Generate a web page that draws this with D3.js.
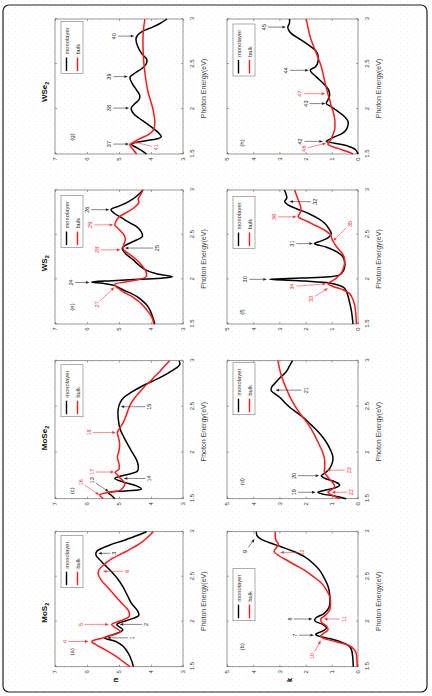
<!DOCTYPE html>
<html><head><meta charset="utf-8">
<script src="https://cdn.jsdelivr.net/npm/d3@7/dist/d3.min.js"></script>
<style>html,body{margin:0;padding:0;background:#fff;}svg{display:block;}
svg text{font-family:"Liberation Sans", Arial, Helvetica, sans-serif;}</style>
</head><body>
<script>
// ---------------- data ----------------
const energyTicks = [1.5, 2, 2.5, 3];
const nTicks = [3, 4, 5, 6, 7];
const kTicks = [0, 1, 2, 3, 4, 5];
const materials = ["MoS", "MoSe", "WS", "WSe"]; // each followed by subscript 2
const seriesNames = ["monolayer", "bulk"];
const xLabel = "Photon Energy(eV)";

// (a) MoS2 n
const mos2N_mono = [[1.5,4.55],[1.56,4.6],[1.65,4.71],[1.73,4.88],[1.78,5.1],[1.82,5.45],[1.86,5.15],[1.91,4.88],[1.97,5.07],[2.02,4.7],[2.07,4.38],[2.12,4.42],[2.21,4.62],[2.3,4.75],[2.39,4.88],[2.48,5.05],[2.58,5.3],[2.67,5.55],[2.74,5.72],[2.78,5.7],[2.85,5.3],[2.9,4.88],[2.95,4.5],[3.0,4.14]];
const mos2N_bulk = [[1.5,4.65],[1.55,4.85],[1.61,5.07],[1.69,5.44],[1.74,5.7],[1.78,5.85],[1.81,5.6],[1.84,5.33],[1.89,4.95],[1.93,5.1],[1.97,5.23],[2.01,4.95],[2.06,4.68],[2.12,4.7],[2.2,4.9],[2.3,5.15],[2.38,5.35],[2.46,5.55],[2.53,5.65],[2.58,5.62],[2.64,5.45],[2.7,5.22],[2.78,4.78],[2.87,4.34],[2.94,4.1],[3.0,3.93]];
// (b) MoS2 k
const mos2K_mono = [[1.5,0.18],[1.6,0.2],[1.69,0.25],[1.74,0.38],[1.78,0.7],[1.81,1.05],[1.84,1.5],[1.86,1.62],[1.89,1.4],[1.93,1.2],[1.97,1.35],[2.01,1.65],[2.04,1.62],[2.09,1.3],[2.15,1.12],[2.22,1.07],[2.3,1.08],[2.39,1.14],[2.48,1.28],[2.57,1.46],[2.65,1.72],[2.72,2.03],[2.78,2.45],[2.83,2.91],[2.88,3.4],[2.92,3.72],[2.96,3.86],[3.0,3.88]];
const mos2K_bulk = [[1.5,0.03],[1.6,0.05],[1.66,0.08],[1.72,0.25],[1.76,0.6],[1.79,1.0],[1.82,1.35],[1.84,1.42],[1.87,1.32],[1.91,1.14],[1.95,1.2],[1.99,1.38],[2.03,1.42],[2.07,1.25],[2.13,1.08],[2.2,1.05],[2.28,1.08],[2.36,1.22],[2.43,1.4],[2.5,1.7],[2.57,2.03],[2.63,2.4],[2.68,2.7],[2.73,3.0],[2.78,3.2],[2.82,3.12],[2.86,3.04],[2.91,3.14],[3.0,3.16]];
// (c) MoSe2 n
const mose2N_mono = [[1.5,5.13],[1.54,5.25],[1.565,5.34],[1.585,4.8],[1.605,4.3],[1.64,4.45],[1.68,4.85],[1.72,5.13],[1.75,4.9],[1.8,4.42],[1.86,4.4],[1.92,4.45],[2.0,4.58],[2.08,4.71],[2.17,4.85],[2.26,4.97],[2.36,5.02],[2.46,5.03],[2.54,4.97],[2.6,4.85],[2.66,4.6],[2.72,4.3],[2.81,3.75],[2.9,3.3],[2.96,3.1],[3.0,3.12]];
const mose2N_bulk = [[1.5,5.49],[1.54,5.6],[1.57,5.3],[1.59,4.97],[1.63,4.85],[1.67,4.82],[1.72,4.95],[1.77,5.08],[1.79,5.12],[1.82,5.0],[1.88,5.0],[1.95,5.05],[2.02,5.0],[2.1,4.98],[2.17,5.02],[2.22,5.05],[2.28,4.95],[2.34,4.85],[2.43,4.75],[2.52,4.65],[2.6,4.5],[2.66,4.35],[2.72,4.2],[2.77,4.04],[2.83,3.88],[2.88,3.73],[2.94,3.58],[3.0,3.42]];
// (d) MoSe2 k
const mose2K_mono = [[1.5,0.45],[1.53,0.9],[1.55,1.35],[1.57,1.53],[1.59,1.3],[1.62,0.85],[1.65,0.7],[1.68,0.85],[1.72,1.25],[1.75,1.4],[1.78,1.25],[1.83,1.08],[1.9,0.97],[1.96,0.96],[2.03,1.05],[2.1,1.18],[2.17,1.35],[2.23,1.53],[2.3,1.78],[2.37,2.04],[2.43,2.3],[2.48,2.55],[2.54,2.78],[2.6,2.98],[2.65,3.22],[2.68,3.32],[2.72,3.28],[2.77,3.12],[2.83,2.92],[2.88,2.74],[2.94,2.62],[3.0,2.5]];
const mose2K_bulk = [[1.5,0.7],[1.54,1.0],[1.57,1.15],[1.6,1.0],[1.63,0.89],[1.67,0.95],[1.71,1.08],[1.76,1.22],[1.79,1.28],[1.85,1.27],[1.94,1.28],[2.02,1.37],[2.08,1.47],[2.17,1.62],[2.26,1.79],[2.34,1.98],[2.41,2.17],[2.48,2.34],[2.55,2.49],[2.62,2.62],[2.7,2.74],[2.77,2.84],[2.84,2.93],[2.92,3.0],[3.0,3.06]];
// (e) WS2 n
const ws2N_mono = [[1.5,3.88],[1.58,3.95],[1.66,4.04],[1.72,4.15],[1.77,4.3],[1.81,4.45],[1.84,4.61],[1.87,4.8],[1.9,4.97],[1.93,5.13],[1.955,5.5],[1.97,5.86],[1.985,5.2],[2.0,4.4],[2.015,3.6],[2.03,3.33],[2.06,3.8],[2.1,4.14],[2.16,4.38],[2.22,4.56],[2.29,4.8],[2.35,4.9],[2.39,4.75],[2.44,4.45],[2.48,4.27],[2.53,4.3],[2.59,4.45],[2.64,4.7],[2.69,4.92],[2.74,5.15],[2.78,5.25],[2.82,5.0],[2.87,4.7],[2.93,4.45],[3.0,4.25]];
const ws2N_bulk = [[1.5,3.91],[1.58,3.98],[1.66,4.14],[1.72,4.28],[1.77,4.45],[1.81,4.6],[1.84,4.77],[1.88,4.95],[1.92,5.1],[1.945,5.13],[1.97,4.8],[2.0,4.35],[2.03,4.15],[2.08,4.15],[2.14,4.25],[2.22,4.45],[2.29,4.71],[2.34,4.87],[2.39,4.85],[2.45,4.8],[2.5,4.85],[2.56,5.0],[2.61,5.13],[2.66,5.08],[2.71,4.95],[2.76,4.7],[2.81,4.5],[2.86,4.38],[2.9,4.4],[2.95,4.32],[3.0,4.25]];
// (f) WS2 k
const ws2K_mono = [[1.5,0.19],[1.58,0.22],[1.66,0.26],[1.74,0.32],[1.81,0.38],[1.87,0.45],[1.91,0.55],[1.94,0.8],[1.96,1.1],[1.98,2.0],[2.0,3.38],[2.015,2.2],[2.03,1.1],[2.05,0.7],[2.1,0.55],[2.17,0.5],[2.25,0.57],[2.31,0.82],[2.36,1.2],[2.4,1.66],[2.43,1.4],[2.47,1.12],[2.51,1.02],[2.57,1.12],[2.63,1.28],[2.69,1.58],[2.74,1.91],[2.79,2.35],[2.84,2.7],[2.87,2.8],[2.91,2.72],[2.95,2.74],[3.0,2.81]];
const ws2K_bulk = [[1.5,0.06],[1.6,0.08],[1.7,0.12],[1.78,0.2],[1.84,0.32],[1.88,0.55],[1.92,0.95],[1.95,1.15],[1.98,1.0],[2.02,0.8],[2.08,0.62],[2.15,0.53],[2.22,0.51],[2.29,0.6],[2.34,0.75],[2.4,0.9],[2.44,0.98],[2.5,1.05],[2.55,1.28],[2.6,1.6],[2.65,1.95],[2.7,2.28],[2.74,2.22],[2.78,2.17],[2.85,2.23],[2.92,2.32],[3.0,2.42]];
// (g) WSe2 n
const wse2N_mono = [[1.5,4.14],[1.54,4.3],[1.57,4.45],[1.61,4.61],[1.64,4.3],[1.67,3.8],[1.69,3.68],[1.73,3.75],[1.77,3.88],[1.84,4.14],[1.9,4.38],[1.95,4.55],[2.01,4.62],[2.06,4.5],[2.1,4.38],[2.15,4.35],[2.21,4.45],[2.28,4.58],[2.35,4.66],[2.4,4.5],[2.45,4.28],[2.5,4.15],[2.55,4.13],[2.62,4.3],[2.7,4.42],[2.78,4.47],[2.82,4.42],[2.86,4.28],[2.91,3.95],[2.95,3.72],[3.0,3.5]];
const wse2N_bulk = [[1.5,4.45],[1.55,4.56],[1.6,4.66],[1.63,4.55],[1.67,4.35],[1.72,4.05],[1.77,3.92],[1.84,3.88],[1.92,3.9],[2.0,3.94],[2.1,4.02],[2.2,4.1],[2.3,4.15],[2.4,4.19],[2.5,4.22],[2.6,4.24],[2.7,4.25],[2.8,4.25],[2.9,4.23],[3.0,4.19]];
// (h) WSe2 k
const wse2K_mono = [[1.5,0.0],[1.55,0.1],[1.59,0.4],[1.62,0.9],[1.64,1.21],[1.66,1.1],[1.69,0.9],[1.73,0.6],[1.77,0.45],[1.82,0.38],[1.86,0.38],[1.93,0.57],[1.99,0.85],[2.03,1.05],[2.06,1.21],[2.1,1.15],[2.16,1.08],[2.21,1.12],[2.25,1.21],[2.3,1.38],[2.36,1.6],[2.43,1.82],[2.47,1.62],[2.52,1.53],[2.6,1.53],[2.65,1.62],[2.69,1.79],[2.74,2.03],[2.79,2.3],[2.84,2.55],[2.88,2.65],[2.91,2.68],[2.95,2.62],[3.0,2.61]];
const wse2K_bulk = [[1.5,0.19],[1.53,0.45],[1.56,0.75],[1.59,1.05],[1.61,1.15],[1.64,1.08],[1.67,1.02],[1.72,0.95],[1.77,0.89],[1.85,0.88],[1.91,0.9],[1.97,0.95],[2.03,1.02],[2.1,1.08],[2.17,1.15],[2.25,1.22],[2.32,1.28],[2.4,1.34],[2.47,1.4],[2.55,1.5],[2.62,1.59],[2.7,1.7],[2.77,1.79],[2.84,1.86],[2.91,1.91],[3.0,1.98]];

// annotations: [label, E_label, v_label, E_tip, v_tip, series(0 mono,1 bulk)]
const notesA = [["1",1.82,4.6,1.82,5.38,0],["2",1.97,4.15,1.97,4.98,0],["3",2.76,5.15,2.76,5.65,0],["4",1.78,6.7,1.78,5.95,1],["5",1.97,6.2,1.97,5.32,1],["6",2.56,4.75,2.56,5.5,1]];
const notesB = [["7",1.85,2.4,1.85,1.68,0],["8",2.03,2.6,2.03,1.74,0],["9",2.78,4.3,2.92,3.95,0],["10",1.62,1.75,1.79,1.42,1],["11",2.03,0.55,2.03,1.3,1],["12",2.77,2.15,2.77,2.97,1]];
const notesC = [["13",1.70,5.85,1.575,5.32,0],["14",1.72,4.05,1.72,4.85,0],["15",2.5,4.05,2.5,4.95,0],["16",1.68,6.2,1.54,5.62,1],["17",1.79,5.85,1.79,5.15,1],["18",2.22,5.95,2.22,5.1,1]];
const notesD = [["19",1.57,2.45,1.57,1.62,0],["20",1.75,2.45,1.75,1.48,0],["21",2.68,2.0,2.68,3.15,0],["22",1.57,0.25,1.57,1.0,1],["23",1.81,0.35,1.81,1.2,1]];
const notesE = [["24",1.965,6.5,1.965,5.92,0],["25",2.35,3.8,2.35,4.82,0],["26",2.78,6.0,2.78,5.3,0],["27",1.72,5.7,1.91,5.15,1],["28",2.33,5.7,2.33,4.95,1],["29",2.61,5.9,2.61,5.18,1]];
const notesF = [["30",2.0,4.3,2.0,3.48,0],["31",2.40,2.5,2.40,1.72,0],["32",2.87,1.65,2.87,2.62,0],["33",1.78,1.8,1.9,1.15,1],["34",1.92,2.5,1.95,1.22,1],["35",2.62,0.3,2.43,0.95,1],["36",2.70,3.2,2.70,2.35,1]];
const notesG = [["37",1.61,5.3,1.61,4.68,0],["38",2.01,5.3,2.01,4.68,0],["39",2.36,5.3,2.36,4.72,0],["40",2.81,5.15,2.81,4.52,0],["41",1.575,3.85,1.635,4.55,1]];
const notesH = [["42",1.64,2.2,1.64,1.34,0],["43",2.06,2.0,2.06,1.24,0],["44",2.43,2.75,2.43,1.88,0],["45",2.91,3.6,2.91,2.75,0],["46",1.56,2.05,1.62,1.22,1],["47",2.17,2.2,2.17,1.25,1]];

// ---------------- layout (figure drawn unrotated, then turned 90° CCW) ----------------
const colX = [29.3, 197.3, 372, 542];
const colW = [135, 138, 134, 135];
const rows = { n: {top: 55, bottom: 183, domain: [3, 7], ticks: nTicks, label: "n"},
               k: {top: 227, bottom: 358, domain: [0, 5], ticks: kTicks, label: "k"} };
const panels = [
  {id:"a", col:0, row:"n", mono:mos2N_mono,  bulk:mos2N_bulk,  notes:notesA, legR:4,   letDx:15},
  {id:"b", col:0, row:"k", mono:mos2K_mono,  bulk:mos2K_bulk,  notes:notesB, legR:37,  letDx:20},
  {id:"c", col:1, row:"n", mono:mose2N_mono, bulk:mose2N_bulk, notes:notesC, legR:4,   letDx:8},
  {id:"d", col:1, row:"k", mono:mose2K_mono, bulk:mose2K_bulk, notes:notesD, legR:2,   letDx:17},
  {id:"e", col:2, row:"n", mono:ws2N_mono,   bulk:ws2N_bulk,   notes:notesE, legR:5.5, letDx:17},
  {id:"f", col:2, row:"k", mono:ws2K_mono,   bulk:ws2K_bulk,   notes:notesF, legR:6.5, letDx:12},
  {id:"g", col:3, row:"n", mono:wse2N_mono,  bulk:wse2N_bulk,  notes:notesG, legR:2.5, letDx:17},
  {id:"h", col:3, row:"k", mono:wse2K_mono,  bulk:wse2K_bulk,  notes:notesH, legR:5,   letDx:11}
];
const seriesColor = ["#000000", "#ff1a1a"];
const FONT = "Liberation Sans, Arial, Helvetica, sans-serif";

const svg = d3.select("body").append("svg").attr("width", 432).attr("height", 696)
  .attr("font-family", FONT);
const defs = svg.append("defs");
const pat = defs.append("pattern").attr("id", "grain").attr("width", 7).attr("height", 6)
  .attr("patternUnits", "userSpaceOnUse");
pat.append("circle").attr("cx", 1.5).attr("cy", 1.5).attr("r", 0.4).attr("fill", "#cfcfcf");
pat.append("circle").attr("cx", 5).attr("cy", 4.5).attr("r", 0.35).attr("fill", "#dadada");
svg.append("rect").attr("width", 432).attr("height", 696).attr("fill", "#fff");
svg.append("rect").attr("width", 432).attr("height", 696).attr("fill", "url(#grain)");

const fig = svg.append("g").attr("transform", "translate(0,696) rotate(-90)");
fig.append("rect").attr("x", 4).attr("y", 3).attr("width", 687).attr("height", 424).attr("rx", 6)
  .attr("fill", "none").attr("stroke", "#222").attr("stroke-width", 1.2);

panels.forEach(p => {
  const R = rows[p.row];
  const x0 = colX[p.col], w = colW[p.col];
  const x = d3.scaleLinear().domain([1.5, 3]).range([x0, x0 + w]);
  const y = d3.scaleLinear().domain(R.domain).range([R.bottom, R.top]);
  const g = fig.append("g");

  // plot area
  g.append("rect").attr("x", x0).attr("y", R.top).attr("width", w).attr("height", R.bottom - R.top)
    .attr("fill", "none").attr("stroke", "#6a6a6a").attr("stroke-width", 0.7);

  const styleAxis = sel => {
    sel.attr("font-family", FONT);
    sel.select(".domain").remove();
    sel.selectAll(".tick line").attr("stroke", "#6a6a6a").attr("stroke-width", 0.6);
    sel.selectAll(".tick text").attr("fill", "#333").attr("font-size", 6).attr("font-family", FONT);
  };
  g.append("g").attr("transform", `translate(0,${R.bottom})`)
    .call(d3.axisBottom(x).tickValues(energyTicks).tickFormat(d3.format("")).tickSizeInner(-2).tickSizeOuter(0).tickPadding(6.5))
    .call(styleAxis);
  g.append("g").attr("transform", `translate(0,${R.top})`)
    .call(d3.axisTop(x).tickValues(energyTicks).tickFormat("").tickSizeInner(-2).tickSizeOuter(0))
    .call(styleAxis);
  g.append("g").attr("transform", `translate(${x0},0)`)
    .call(d3.axisLeft(y).tickValues(R.ticks).tickFormat(d3.format("d")).tickSizeInner(-2).tickSizeOuter(0).tickPadding(3.5))
    .call(styleAxis);
  g.append("g").attr("transform", `translate(${x0 + w},0)`)
    .call(d3.axisRight(y).tickValues(R.ticks).tickFormat("").tickSizeInner(-2).tickSizeOuter(0))
    .call(styleAxis);

  // axis labels
  g.append("text").attr("x", x0 + w / 2 - 2).attr("y", R.bottom + 22.5).attr("text-anchor", "middle")
    .attr("fill", "#444").attr("font-size", 7).attr("font-family", FONT).text(xLabel);
  g.append("text").attr("x", 16).attr("y", (R.top + R.bottom) / 2 - 3).attr("text-anchor", "middle")
    .attr("dy", "0.35em").attr("fill", "#333").attr("font-size", 7).attr("font-family", FONT).text(R.label);

  // curves
  const line = d3.line().x(d => x(d[0])).y(d => y(d[1])).curve(d3.curveCatmullRom.alpha(0.5));
  [p.mono, p.bulk].forEach((s, i) => {
    g.append("path").datum(s).attr("d", line).attr("fill", "none")
      .attr("stroke", seriesColor[i]).attr("stroke-width", 1.5).attr("stroke-linejoin", "round");
  });

  // annotations
  p.notes.forEach(nt => {
    const [txt, el, vl, et, vt, si] = nt;
    const col = si === 0 ? "#222" : "#ff2a2a";
    const lx = x(el), ly = y(vl), tx = x(et), ty = y(vt);
    const dx = tx - lx, dy = ty - ly, len = Math.hypot(dx, dy);
    const ux = dx / len, uy = dy / len;
    const off = Math.abs(ux) > 0.3 ? 5 : 4;
    const sx = lx + ux * off, sy = ly + uy * off;
    const ah = 3.6, aw = 1.4;
    const bx = tx - ux * ah, by = ty - uy * ah;
    g.append("line").attr("x1", sx).attr("y1", sy).attr("x2", bx).attr("y2", by)
      .attr("stroke", col).attr("stroke-width", 0.55);
    g.append("path").attr("d", `M${tx},${ty}L${bx - uy * aw},${by + ux * aw}L${bx + uy * aw},${by - ux * aw}Z`)
      .attr("fill", col);
    g.append("text").attr("x", lx).attr("y", ly).attr("dy", "0.35em").attr("text-anchor", "middle")
      .attr("fill", col).attr("font-size", 5.5).attr("font-family", FONT).text(txt);
  });

  // panel letter
  g.append("text").attr("x", x0 + p.letDx).attr("y", R.top + (p.row === "n" ? 16.7 : 14.7)).attr("dy", "0.35em")
    .attr("text-anchor", "middle").attr("fill", "#333").attr("font-size", 6).attr("font-family", FONT).text(`(${p.id})`);

  // legend
  const lw = 52, lh = 22;
  const lx0 = x0 + w - p.legR - lw, ly0 = R.top + 6;
  const leg = g.append("g");
  leg.append("rect").attr("x", lx0).attr("y", ly0).attr("width", lw).attr("height", lh)
    .attr("fill", "#fff").attr("stroke", "#777").attr("stroke-width", 0.6);
  seriesNames.forEach((nm, i) => {
    const yy = ly0 + 5.5 + i * 11;
    leg.append("line").attr("x1", lx0 + 2.5).attr("x2", lx0 + 16).attr("y1", yy).attr("y2", yy)
      .attr("stroke", seriesColor[i]).attr("stroke-width", 1.4);
    leg.append("text").attr("x", lx0 + 19).attr("y", yy).attr("dy", "0.35em").attr("fill", "#333")
      .attr("font-size", 5.8).attr("font-family", FONT).text(nm);
  });

  // title for n panels
  if (p.row === "n") {
    const titleE = [2.1, 2.16, 2.18, 2.19][p.col];
    const t = g.append("text").attr("x", x(titleE)).attr("y", 47).attr("text-anchor", "middle")
      .attr("fill", "#111").attr("font-size", 8).attr("font-weight", "bold").attr("font-family", FONT);
    t.append("tspan").text(materials[p.col]);
    t.append("tspan").attr("dy", "2").attr("font-size", 5.5).text("2");
  }
});
</script>
</body></html>
